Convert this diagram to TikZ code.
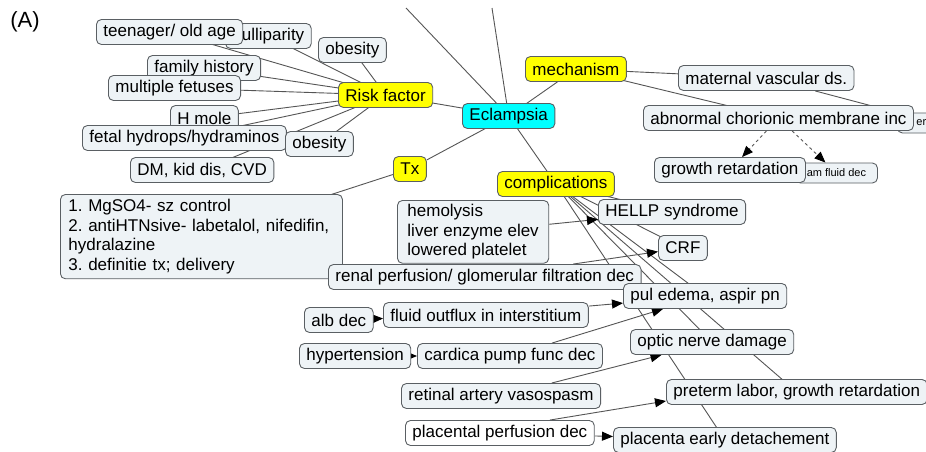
\documentclass[tikz,border=0pt]{standalone}
\usepackage{fontspec}
\setmainfont{Liberation Sans}
\usepackage{tikz}
\usetikzlibrary{shapes,arrows.meta}
\definecolor{boxfill}{HTML}{EEF3F6}
\definecolor{boxline}{HTML}{5A5F63}
\definecolor{linkgray}{HTML}{555555}
\definecolor{hubyellow}{HTML}{FFFF00}
\definecolor{hubcyan}{HTML}{00FFFF}
\pgfdeclarelayer{paper}
\pgfdeclarelayer{links}
\pgfsetlayers{paper,links,main}
\frenchspacing

\begin{document}
\begin{tikzpicture}[
    x=1pt, y=-1pt,
    concept/.style={rectangle, draw=boxline, fill=boxfill, rounded corners=5pt, line width=0.9pt, minimum height=25pt, inner xsep=7pt, inner ysep=2pt, anchor=west, font=\fontsize{17}{19.5}\selectfont},
    topic/.style={concept, fill=hubyellow},
    hubnode/.style={concept, fill=hubcyan},
    smallbox/.style={concept, minimum height=20pt, font=\fontsize{11}{13}\selectfont},
    link/.style={draw=linkgray, line width=0.9pt},
    cause/.style={link, -{Stealth[length=11pt, width=9pt, inset=0pt, black]}},
]
    \begin{pgfonlayer}{paper}
        \fill[white] (0,0) rectangle (926,452);
    \end{pgfonlayer}
    \useasboundingbox (0,0) rectangle (926,452);

    \node[font=\fontsize{22}{24}\selectfont] (panel) at (25,22) {(A)};

    \node[hubnode] (ecl) at (462,116) {Eclampsia};
    \node[topic] (risk) at (338,95) {Risk factor};
    \node[topic] (tx) at (393,169) {Tx};
    \node[topic] (mech) at (525,69) {mechanism};
    \node[topic] (comp) at (497,184) {complications};

    \node[concept] (nulli) at (225,36) {nulliparity};
    \node[concept] (teen) at (96,32) {teenager/ old age};
    \node[concept] (obes1) at (318,50) {obesity};
    \node[concept] (fam) at (147,68) {family history};
    \node[concept] (mult) at (108,88) {multiple fetuses};
    \node[concept] (hmole) at (170,118) {H mole};
    \node[concept] (fetal) at (82,138) {fetal hydrops/hydraminos};
    \node[concept] (obes2) at (285,144) {obesity};
    \node[concept] (dm) at (130,170) {DM, kid dis, CVD};

    \node[concept, anchor=north west, text width=266pt, align=left, inner xsep=8pt, inner ysep=5pt] (treat) at (60,194) {1. MgSO4- sz control\\2. antiHTNsive- labetalol, nifedifin,\\hydralazine\\3. definitie tx; delivery};

    \node[concept] (matvasc) at (678,78) {maternal vascular ds.};
    \node[smallbox, text width=40pt, align=left, inner xsep=19pt] (rsmall) at (897,123) {ere};
    \node[concept] (abnorm) at (643,118) {abnormal chorionic membrane inc};
    \node[smallbox, minimum width=82pt] (amfluid) at (795,173) {am fluid dec};
    \node[concept] (growth) at (654,170) {growth retardation};

    \node[concept, anchor=north west, align=left, inner xsep=10pt, inner ysep=4pt] (hemo) at (397,200) {hemolysis\\liver enzyme elev\\lowered platelet};
    \node[concept] (hellp) at (598,212) {HELLP syndrome};
    \node[concept] (crf) at (658,248) {CRF};
    \node[concept] (renal) at (328,277) {renal perfusion/ glomerular filtration dec};
    \node[concept] (pul) at (623,296) {pul edema, aspir pn};
    \node[concept] (alb) at (304,320) {alb dec};
    \node[concept] (fluid) at (383,315) {fluid outflux in interstitium};
    \node[concept] (hyper) at (299,356) {hypertension};
    \node[concept] (cardica) at (417,356) {cardica pump func dec};
    \node[concept] (optic) at (630,342) {optic nerve damage};
    \node[concept] (retinal) at (401,396) {retinal artery vasospasm};
    \node[concept] (preterm) at (666,392) {preterm labor, growth retardation};
    \node[concept, fill=white] (placperf) at (405,433) {placental perfusion dec};
    \node[concept] (placdet) at (613,440) {placenta early detachement};

    \coordinate (up1) at (406,8);
    \coordinate (up2) at (492,8);

    \begin{pgfonlayer}{links}
        \foreach \leaf in {teen, nulli, obes1, fam, mult, hmole, fetal, obes2, dm}
            \draw[link] (risk.center) -- (\leaf.center);
        \foreach \leaf in {risk, tx, mech, comp, up1, up2}
            \draw[link] (ecl.center) -- (\leaf);
        \draw[link] (tx.center) -- (treat.center);
        \draw[link] (mech.center) -- (matvasc.center);
        \draw[link] (mech.center) -- (abnorm.center);
        \foreach \leaf in {hellp, crf, pul, optic, preterm, placdet}
            \draw[link] (comp.center) -- (\leaf.center);

        \draw[cause] (matvasc) -- (rsmall);
        \draw[cause, dashed] (abnorm) -- (growth);
        \draw[cause, dashed] (abnorm) -- (amfluid);
        \draw[cause] (hemo) -- (hellp);
        \draw[cause] (renal) -- (crf);
        \draw[cause] (alb) -- (fluid);
        \draw[cause] (fluid) -- (pul);
        \draw[cause] (hyper) -- (cardica);
        \draw[cause] (cardica) -- (pul);
        \draw[cause] (retinal) -- (optic);
        \draw[cause] ([xshift=50pt]placperf.north) -- ([yshift=-9pt]preterm.west);
        \draw[cause] (placperf) -- (placdet);
    \end{pgfonlayer}
\end{tikzpicture}
\end{document}
